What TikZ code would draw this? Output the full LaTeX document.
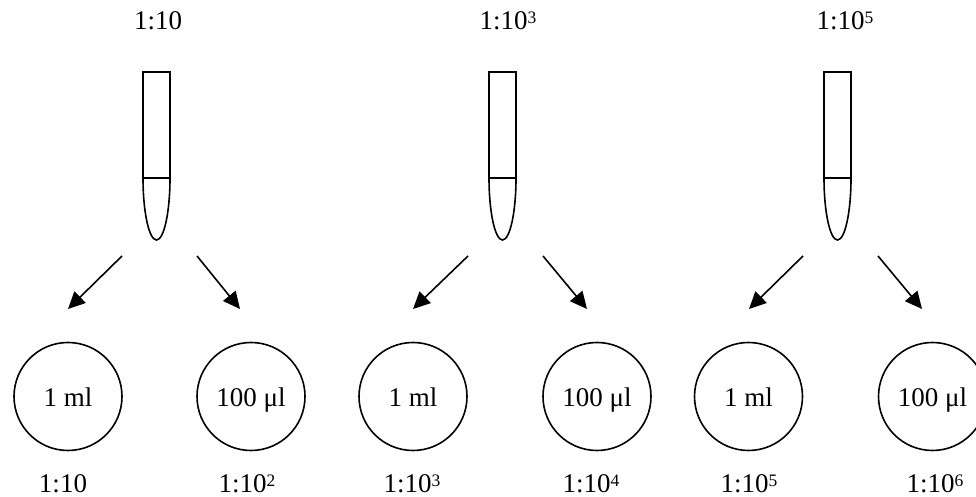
\documentclass[tikz,border=0pt]{standalone}
\usepackage{fontspec}
\setmainfont{Liberation Serif}
\usetikzlibrary{arrows.meta}
\newcommand{\sups}[1]{\raisebox{6.8pt}{\fontsize{17.5}{20}\selectfont #1}}
\tikzset{
  lbl/.style={anchor=base, inner sep=0pt, font=\fontsize{27}{30}\selectfont},
  dish/.style={circle, draw, line width=1.6pt, minimum size=108pt, inner sep=0pt,
    text height=20pt, text depth=0pt, font=\fontsize{27}{30}\selectfont},
  tube/.style={line width=1.6pt},
  flow/.style={line width=1.6pt, -{Triangle[length=17pt,width=16pt]}}
}
\newcommand{\drawtube}[2]{% #1 name, #2 center x
  \draw[tube] (#2-13.5,319) -- (#2-13.5,425) -- (#2+13.5,425) -- (#2+13.5,319) -- cycle;
  \draw[tube] (#2-13.5,319) arc[start angle=180, end angle=360, x radius=13.5, y radius=62];
  \coordinate (#1) at (#2,257);
}
\begin{document}
\begin{tikzpicture}[x=1pt,y=1pt]
\useasboundingbox (0,0) rectangle (976,497);
\clip (0,0) rectangle (976,497);

% top labels
\node[lbl] (t1) at (158,467) {1:10};
\node[lbl] (t2) at (508,467) {1:10\sups{3}};
\node[lbl] (t3) at (845,467) {1:10\sups{5}};

% tubes
\drawtube{tubeA}{156.5}
\drawtube{tubeB}{502.5}
\drawtube{tubeC}{837.5}

% dishes
\node[dish] (d1) at (68,100.5) {1 ml};
\node[dish] (d2) at (251,100.5) {100 μl};
\node[dish] (d3) at (413,100.5) {1 ml};
\node[dish] (d4) at (597,100.5) {100 μl};
\node[dish] (d5) at (748.5,100.5) {1 ml};
\node[dish] (d6) at (932.5,100.5) {100 μl};

% arrow endpoints
\coordinate (a1s) at (122,241); \coordinate (a1e) at (68,188);
\coordinate (a2s) at (197,241); \coordinate (a2e) at (240,188);
\coordinate (a3s) at (468,241); \coordinate (a3e) at (413,188);
\coordinate (a4s) at (543,241); \coordinate (a4e) at (587,188);
\coordinate (a5s) at (803,241); \coordinate (a5e) at (749,188);
\coordinate (a6s) at (878,241); \coordinate (a6e) at (922,188);
\foreach \i in {1,...,6} { \draw[flow] (a\i s) -- (a\i e); }

% bottom labels
\node[lbl] (b1) at (63,4) {1:10};
\node[lbl] (b2) at (247,4) {1:10\sups{2}};
\node[lbl] (b3) at (412,4) {1:10\sups{3}};
\node[lbl] (b4) at (591,4) {1:10\sups{4}};
\node[lbl] (b5) at (749,4) {1:10\sups{5}};
\node[lbl] (b6) at (935,4) {1:10\sups{6}};
\end{tikzpicture}
\end{document}
